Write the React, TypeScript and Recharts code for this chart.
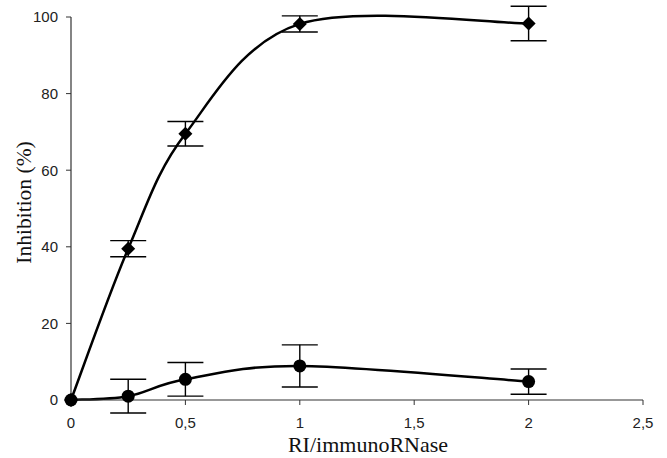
import { LineChart, Line, XAxis, YAxis, ErrorBar, Label } from "recharts"

// RI / immunoRNase molar ratio
const ratios = [0, 0.25, 0.5, 1, 2]
// inhibition (%) – diamond series
const diamondVals = [0, 39.5, 69.5, 98.2, 98.3]
const diamondErr = [null, 2.1, 3.2, 2.1, 4.5]
// inhibition (%) – circle series
const circleVals = [0, 1, 5.4, 8.9, 4.8]
const circleErr = [null, 4.4, 4.4, 5.5, 3.3]

const xTicks = [0, 0.5, 1, 1.5, 2, 2.5]
const yTicks = [0, 20, 40, 60, 80, 100]

const data = ratios.map((x, i) => ({
  x,
  diamond: diamondVals[i],
  diamondErr: diamondErr[i],
  circle: circleVals[i],
  circleErr: circleErr[i],
}))

// Excel-style smoothed line (Catmull-Rom as cubic beziers)
function excelSmooth(context: any) {
  let pts: number[][] = []
  return {
    areaStart() {},
    areaEnd() {},
    lineStart() {
      pts = []
    },
    point(x: number, y: number) {
      pts.push([+x, +y])
    },
    lineEnd() {
      const n = pts.length
      if (!n) return
      context.moveTo(pts[0][0], pts[0][1])
      for (let i = 0; i < n - 1; i++) {
        const p0 = pts[Math.max(i - 1, 0)]
        const p1 = pts[i]
        const p2 = pts[i + 1]
        const p3 = pts[Math.min(i + 2, n - 1)]
        context.bezierCurveTo(
          p1[0] + (p2[0] - p0[0]) / 6,
          p1[1] + (p2[1] - p0[1]) / 6,
          p2[0] - (p3[0] - p1[0]) / 6,
          p2[1] - (p3[1] - p1[1]) / 6,
          p2[0],
          p2[1]
        )
      }
    },
  }
}

const DiamondDot = (props: any) => {
  const { cx, cy, index } = props
  if (cx == null || cy == null) return <g key={`d${index}`} />
  return (
    <path
      key={`d${index}`}
      d={`M${cx},${cy - 7} L${cx + 7},${cy} L${cx},${cy + 7} L${cx - 7},${cy} Z`}
      fill="#000"
    />
  )
}

const CircleDot = (props: any) => {
  const { cx, cy, index } = props
  if (cx == null || cy == null) return <g key={`c${index}`} />
  return <circle key={`c${index}`} cx={cx} cy={cy} r={6.5} fill="#000" />
}

const tickFont = { fontFamily: "'Liberation Sans', Arial, sans-serif", fontSize: 15, fill: "#222" }
const titleFont = "'Liberation Serif', 'Times New Roman', serif"

export default function App() {
  return (
    <div style={{ position: "absolute", left: 0, top: 0, background: "#fff" }}>
      {/* error bars reach past 0 and 100 in the original, so don't clip them */}
      <style>{".recharts-wrapper svg * { clip-path: none !important; }"}</style>
      <LineChart
        width={667}
        height={458}
        data={data}
        margin={{ top: 17, right: 24, left: 11, bottom: 28 }}
      >
        <XAxis
          dataKey="x"
          type="number"
          domain={[0, 2.5]}
          ticks={xTicks}
          tickFormatter={(v: number) => String(v).replace(".", ",")}
          tick={tickFont}
          tickSize={5}
          tickMargin={12}
          height={30}
          stroke="#333"
          axisLine={{ stroke: "#333", strokeWidth: 1.2 }}
        >
          <Label
            content={(p: any) => {
              const vb = p.viewBox
              return (
                <text
                  x={vb.x + vb.width / 2 + 11}
                  y={vb.y + 52}
                  textAnchor="middle"
                  fontFamily={titleFont}
                  fontSize={22}
                  fill="#111"
                >
                  RI/immunoRNase
                </text>
              )
            }}
          />
        </XAxis>
        <YAxis
          type="number"
          domain={[0, 100]}
          allowDataOverflow
          ticks={yTicks}
          tick={tickFont}
          tickSize={5}
          tickMargin={8}
          width={60}
          stroke="#333"
          axisLine={{ stroke: "#333", strokeWidth: 1.2 }}
        >
          <Label
            content={(p: any) => {
              const vb = p.viewBox
              const cy = vb.y + vb.height / 2 - 6
              return (
                <text
                  x={31}
                  y={cy}
                  transform={`rotate(-90, 31, ${cy})`}
                  textAnchor="middle"
                  fontFamily={titleFont}
                  fontSize={21.5}
                  fill="#111"
                >
                  Inhibition (%)
                </text>
              )
            }}
          />
        </YAxis>
        <Line
          dataKey="diamond"
          type={excelSmooth as any}
          stroke="#000"
          strokeWidth={2.5}
          dot={DiamondDot}
          activeDot={false}
          isAnimationActive={false}
        >
          <ErrorBar dataKey="diamondErr" width={18} stroke="#000" strokeWidth={1.4} isAnimationActive={false} />
        </Line>
        <Line
          dataKey="circle"
          type={excelSmooth as any}
          stroke="#000"
          strokeWidth={2.5}
          dot={CircleDot}
          activeDot={false}
          isAnimationActive={false}
        >
          <ErrorBar dataKey="circleErr" width={18} stroke="#000" strokeWidth={1.4} isAnimationActive={false} />
        </Line>
      </LineChart>
    </div>
  )
}
